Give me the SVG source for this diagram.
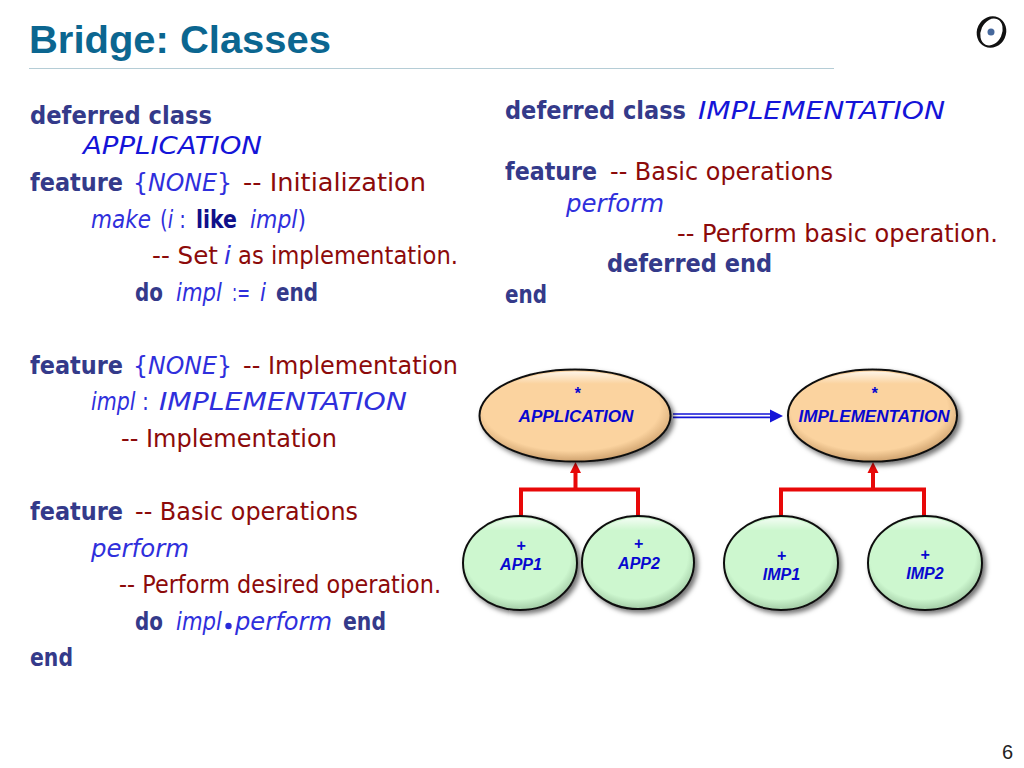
<svg xmlns="http://www.w3.org/2000/svg" width="1024" height="768" viewBox="0 0 1024 768">
<style>
text{font-family:"DejaVu Sans","Noto Sans",sans-serif;font-size:25px}
.k{font-weight:bold;fill:#343a8a}
.b{font-style:italic;fill:#2f2fdc}
.u{font-style:normal;fill:#2f2fdc}
.c{fill:#8c0a0a}
.l{font-weight:bold;fill:#10108a}
.n{font-family:"Liberation Sans",Arial,sans-serif;font-weight:bold;font-style:italic;font-size:16px;fill:#0808d0;text-anchor:middle}
.def{fill:url(#orange);stroke:#111;stroke-width:2;filter:url(#sh)}
.eff{fill:url(#green);stroke:#111;stroke-width:2;filter:url(#sh)}
.hl{fill:url(#shine);stroke:none}
.inh{fill:none;stroke:#e80808;stroke-width:4}
.cli{fill:none;stroke:#1414d8;stroke-width:1.7}
</style>
<defs>
<radialGradient id="orange" cx="48%" cy="42%" r="58%"><stop offset="0.8" stop-color="#fbd39f"/><stop offset="1" stop-color="#cfa26e"/></radialGradient>
<radialGradient id="green" cx="48%" cy="42%" r="58%"><stop offset="0.8" stop-color="#cdf7cf"/><stop offset="1" stop-color="#a3cca6"/></radialGradient>
<linearGradient id="shine" x1="0" y1="0" x2="0" y2="1"><stop offset="0" stop-color="#fff" stop-opacity="0.75"/><stop offset="0.14" stop-color="#fff" stop-opacity="0"/></linearGradient>
<filter id="sh" x="-20%" y="-20%" width="150%" height="150%"><feDropShadow dx="3" dy="3" stdDeviation="2.500" flood-color="#000" flood-opacity="0.55"/></filter>
</defs>
<rect width="1024" height="768" fill="#fff"/>
<text x="29" y="53" textLength="302" lengthAdjust="spacingAndGlyphs" style="font-family:'Liberation Sans',Arial,sans-serif;font-weight:bold;font-size:38px;fill:#0b6690">Bridge: Classes</text>
<line x1="29" y1="68.500" x2="834" y2="68.500" stroke="#b5cdd6" stroke-width="1"/>
<g id="logo"><ellipse cx="991.500" cy="32" rx="14.500" ry="16" transform="rotate(25 991.500 32)" fill="#111"/><ellipse cx="991.500" cy="32" rx="10.500" ry="14" transform="rotate(25 991.500 32)" fill="#fff"/><circle cx="991" cy="32" r="3.500" fill="#46689c"/></g>
<text x="1002" y="759" style="font-family:'Liberation Sans',Arial,sans-serif;font-size:20px;fill:#222">6</text>

<g id="code-left">
<text class="k" x="30" y="124" textLength="182" lengthAdjust="spacingAndGlyphs">deferred class</text>
<text class="b" x="83" y="154" textLength="179" lengthAdjust="spacingAndGlyphs" style="fill:#1414d8">APPLICATION</text>
<text class="k" x="30" y="191" textLength="93" lengthAdjust="spacingAndGlyphs">feature</text>
<text class="b" x="133" y="191" textLength="99" lengthAdjust="spacingAndGlyphs"><tspan class="u">{</tspan>NONE<tspan class="u">}</tspan></text>
<text class="c" x="243" y="191" textLength="183" lengthAdjust="spacingAndGlyphs">-- Initialization</text>
<text class="b" x="91" y="228" textLength="60" lengthAdjust="spacingAndGlyphs">make</text>
<text class="u" x="160" y="228" textLength="26" lengthAdjust="spacingAndGlyphs">(<tspan class="b">i</tspan> :</text>
<text class="l" x="196" y="228" textLength="41" lengthAdjust="spacingAndGlyphs">like</text>
<text class="b" x="250" y="228" textLength="56" lengthAdjust="spacingAndGlyphs">impl<tspan class="u">)</tspan></text>
<text class="c" x="152" y="264" textLength="66" lengthAdjust="spacingAndGlyphs">-- Set</text>
<text class="b" x="224" y="264" textLength="7" lengthAdjust="spacingAndGlyphs">i</text>
<text class="c" x="238" y="264" textLength="220" lengthAdjust="spacingAndGlyphs">as implementation.</text>
<text class="k" x="135" y="301" textLength="28" lengthAdjust="spacingAndGlyphs">do</text>
<text class="b" x="176" y="301" textLength="46" lengthAdjust="spacingAndGlyphs">impl</text>
<text class="u" x="232" y="301" textLength="18" lengthAdjust="spacingAndGlyphs">:=</text>
<text class="b" x="260" y="301" textLength="6" lengthAdjust="spacingAndGlyphs">i</text>
<text class="k" x="276" y="301" textLength="42" lengthAdjust="spacingAndGlyphs">end</text>
<text class="k" x="30" y="374" textLength="93" lengthAdjust="spacingAndGlyphs">feature</text>
<text class="b" x="133" y="374" textLength="99" lengthAdjust="spacingAndGlyphs"><tspan class="u">{</tspan>NONE<tspan class="u">}</tspan></text>
<text class="c" x="243" y="374" textLength="215" lengthAdjust="spacingAndGlyphs">-- Implementation</text>
<text class="b" x="91" y="410" textLength="58" lengthAdjust="spacingAndGlyphs">impl <tspan class="u">:</tspan></text>
<text class="b" x="159" y="410" textLength="248" lengthAdjust="spacingAndGlyphs">IMPLEMENTATION</text>
<text class="c" x="121" y="447" textLength="216" lengthAdjust="spacingAndGlyphs">-- Implementation</text>
<text class="k" x="30" y="520" textLength="93" lengthAdjust="spacingAndGlyphs">feature</text>
<text class="c" x="135" y="520" textLength="223" lengthAdjust="spacingAndGlyphs">-- Basic operations</text>
<text class="b" x="91" y="557" textLength="98" lengthAdjust="spacingAndGlyphs">perform</text>
<text class="c" x="119" y="593" textLength="322" lengthAdjust="spacingAndGlyphs">-- Perform desired operation.</text>
<text class="k" x="135" y="630" textLength="28" lengthAdjust="spacingAndGlyphs">do</text>
<text class="b" x="176" y="630" textLength="46" lengthAdjust="spacingAndGlyphs">impl</text>
<text class="b" x="235" y="630" textLength="97" lengthAdjust="spacingAndGlyphs">perform</text>
<circle cx="228.500" cy="626" r="3.200" fill="#2a2ad8"/>
<text class="k" x="343" y="630" textLength="43" lengthAdjust="spacingAndGlyphs">end</text>
<text class="k" x="30" y="666" textLength="43" lengthAdjust="spacingAndGlyphs">end</text>
</g>

<g id="code-right">
<text class="k" x="505" y="119" textLength="181" lengthAdjust="spacingAndGlyphs">deferred class</text>
<text class="b" x="698" y="119" textLength="247" lengthAdjust="spacingAndGlyphs" style="fill:#1414d8">IMPLEMENTATION</text>
<text class="k" x="505" y="180" textLength="92" lengthAdjust="spacingAndGlyphs">feature</text>
<text class="c" x="610" y="180" textLength="223" lengthAdjust="spacingAndGlyphs">-- Basic operations</text>
<text class="b" x="566" y="212" textLength="98" lengthAdjust="spacingAndGlyphs">perform</text>
<text class="c" x="677" y="242" textLength="321" lengthAdjust="spacingAndGlyphs">-- Perform basic operation.</text>
<text class="k" x="607" y="272" textLength="165" lengthAdjust="spacingAndGlyphs">deferred end</text>
<text class="k" x="505" y="303" textLength="42" lengthAdjust="spacingAndGlyphs">end</text>
</g>

<g id="connectors">
<path class="inh" d="M521 517V489.500H638V517M575.500 489.500V470"/>
<polygon points="575.500,462 570,473 581,473" fill="#e80808"/>
<path class="inh" d="M781 517V489.500H924V517M873 489.500V470"/>
<polygon points="873,462 867.500,473 878.500,473" fill="#e80808"/>
<path class="cli" d="M673 414H771M673 417.300H771"/>
<polygon points="783,416 770,409.500 770,422.500" fill="#1414d8"/>
</g>

<g id="APPLICATION"><ellipse class="def" cx="575" cy="415.500" rx="95.500" ry="46"/><ellipse class="hl" cx="575" cy="415.500" rx="93" ry="44"/><text class="n" x="577" y="399">*</text><text class="n" x="576" y="422" textLength="115" lengthAdjust="spacingAndGlyphs">APPLICATION</text></g>
<g id="IMPLEMENTATION"><ellipse class="def" cx="872.500" cy="415.500" rx="84.500" ry="46"/><ellipse class="hl" cx="872.500" cy="415.500" rx="82" ry="44"/><text class="n" x="874" y="399">*</text><text class="n" x="874" y="422" textLength="151" lengthAdjust="spacingAndGlyphs">IMPLEMENTATION</text></g>
<g id="APP1"><ellipse class="eff" cx="520" cy="563" rx="57" ry="47"/><ellipse class="hl" cx="520" cy="563" rx="55" ry="45"/><text class="n" x="521" y="551">+</text><text class="n" x="521" y="570">APP1</text></g>
<g id="APP2"><ellipse class="eff" cx="638" cy="562.500" rx="56" ry="46.500"/><ellipse class="hl" cx="638" cy="562.500" rx="54" ry="44.500"/><text class="n" x="638.500" y="549">+</text><text class="n" x="639" y="569">APP2</text></g>
<g id="IMP1"><ellipse class="eff" cx="781" cy="563" rx="57" ry="47"/><ellipse class="hl" cx="781" cy="563" rx="55" ry="45"/><text class="n" x="781.500" y="561">+</text><text class="n" x="781.500" y="580">IMP1</text></g>
<g id="IMP2"><ellipse class="eff" cx="925" cy="563" rx="57" ry="47"/><ellipse class="hl" cx="925" cy="563" rx="55" ry="45"/><text class="n" x="925" y="560">+</text><text class="n" x="925" y="579">IMP2</text></g>
</svg>
